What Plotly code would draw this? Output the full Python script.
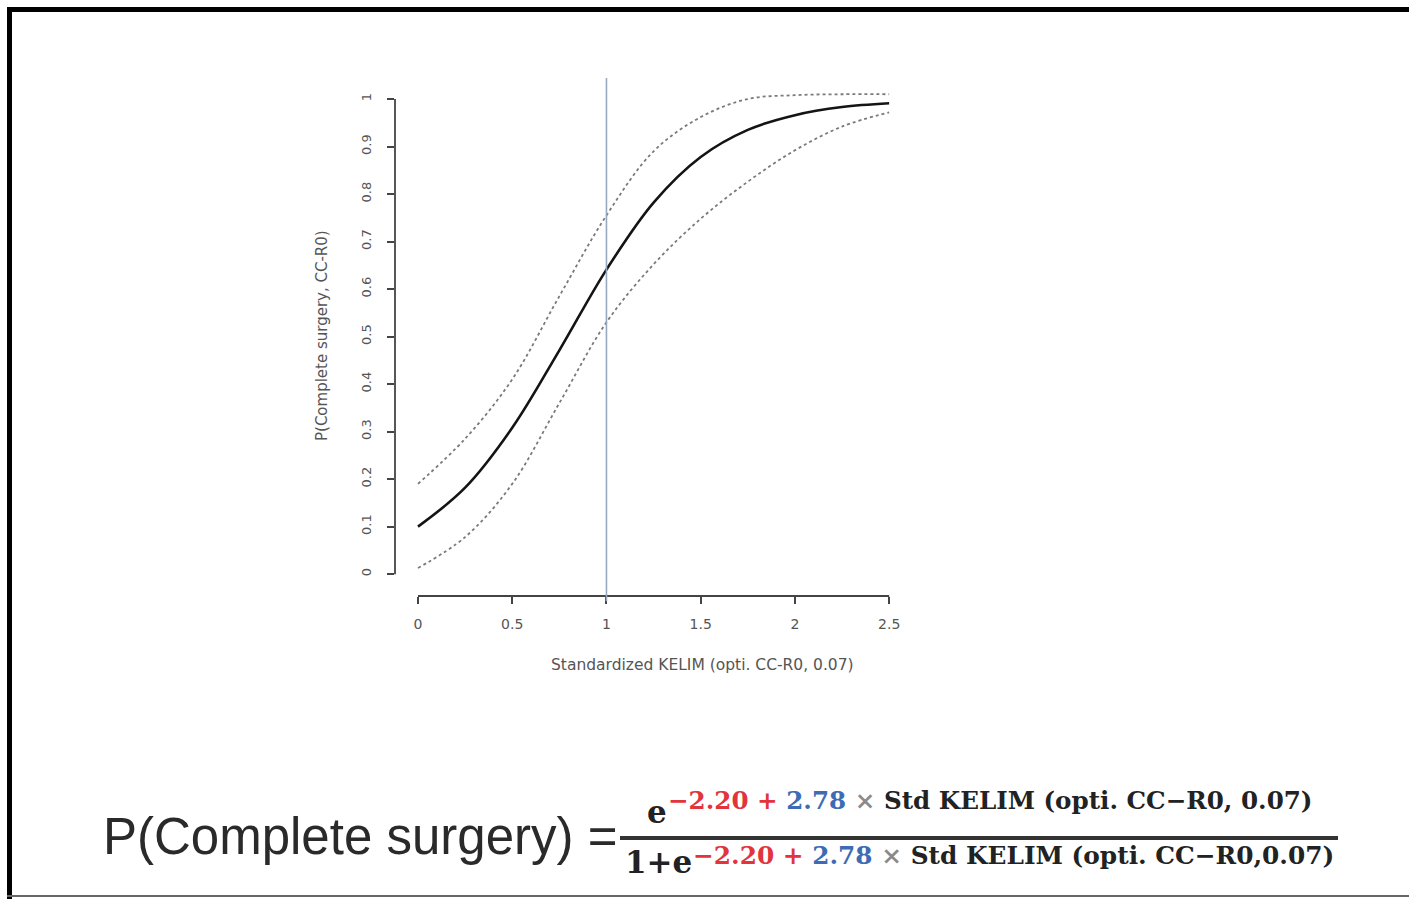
import plotly.graph_objects as go

W, H = 1409, 899

# Standardized KELIM values and predicted probability of complete surgery (CC-R0)
kelim = [0, 0.25, 0.5, 0.75, 1.0, 1.25, 1.5, 1.75, 2.0, 2.25, 2.5]
p_fit = [0.100, 0.182, 0.308, 0.471, 0.641, 0.782, 0.878, 0.935, 0.966, 0.983, 0.991]
p_upper = [0.190, 0.285, 0.410, 0.585, 0.755, 0.890, 0.962, 1.000, 1.008, 1.010, 1.010]
p_lower = [0.013, 0.078, 0.190, 0.360, 0.530, 0.652, 0.748, 0.826, 0.892, 0.942, 0.972]
cutoff = 1.0

x_ticks = [0, 0.5, 1, 1.5, 2, 2.5]
x_ticktext = ["0", "0.5", "1", "1.5", "2", "2.5"]
y_ticks = [0, 0.1, 0.2, 0.3, 0.4, 0.5, 0.6, 0.7, 0.8, 0.9, 1]
y_ticktext = ["0", "0.1", "0.2", "0.3", "0.4", "0.5", "0.6", "0.7", "0.8", "0.9", "1"]


def px(x):
    return x / W


def py(y):
    return 1 - y / H


fig = go.Figure()

for band in (p_upper, p_lower):
    fig.add_trace(go.Scatter(
        x=kelim, y=band, mode="lines", line_shape="spline",
        line=dict(color="#7a7a7a", width=1.8, dash="dot"),
        hoverinfo="skip", showlegend=False,
    ))

fig.add_trace(go.Scatter(
    x=kelim, y=p_fit, mode="lines", line_shape="spline",
    line=dict(color="#141414", width=2.6),
    showlegend=False,
))

label_font = dict(family="DejaVu Sans, sans-serif", size=15, color="#555")

fig.update_layout(
    width=W, height=H,
    margin=dict(l=0, r=0, t=0, b=0),
    paper_bgcolor="white", plot_bgcolor="white",
    xaxis=dict(
        domain=[px(395), px(908)], range=[-0.122, 2.6],
        showgrid=False, zeroline=False, showline=False,
        ticks="outside", ticklen=7, tickwidth=1.5, tickcolor="#444",
        tickvals=x_ticks, ticktext=x_ticktext, tickfont=dict(label_font, size=14),
        ticklabelstandoff=8,
    ),
    yaxis=dict(
        domain=[py(596), py(80)], range=[-0.046, 1.04],
        showgrid=False, zeroline=False, showline=False,
        ticks="outside", ticklen=7, tickwidth=1.5, tickcolor="#444",
        tickvals=y_ticks, ticktext=y_ticktext, tickfont=dict(label_font, size=13),
        tickangle=-90, ticklabelstandoff=11,
    ),
)

shapes = [
    # axis lines spanning the tick range only
    dict(type="line", xref="x", yref="paper", x0=0, x1=2.5, y0=py(596), y1=py(596),
         line=dict(color="#444", width=1.8)),
    dict(type="line", xref="paper", yref="y", x0=px(395), x1=px(395), y0=0, y1=1,
         line=dict(color="#444", width=1.8)),
    # cutoff at standardized KELIM = 1
    dict(type="line", xref="x", yref="y domain", x0=cutoff, x1=cutoff, y0=-0.01, y1=1.004,
         line=dict(color="#9aa8bf", width=1.6)),
    # fraction bar of the model equation
    dict(type="line", xref="paper", yref="paper", x0=px(620), x1=px(1338), y0=py(838), y1=py(838),
         line=dict(color="#333", width=4)),
    # frame
    dict(type="rect", xref="paper", yref="paper", x0=px(7), x1=px(1409), y0=py(7), y1=py(12),
         fillcolor="black", line=dict(width=0)),
    dict(type="rect", xref="paper", yref="paper", x0=px(7), x1=px(12), y0=py(7), y1=py(899),
         fillcolor="black", line=dict(width=0)),
    dict(type="line", xref="paper", yref="paper", x0=px(7), x1=px(1409), y0=py(896), y1=py(896),
         line=dict(color="#666", width=2)),
]
fig.update_layout(shapes=shapes)

serif = "DejaVu Serif, serif"
exponent_num = ('<b><span style="color:#e2343c">\u22122.20 + </span>'
                '<span style="color:#3d6cb5">2.78</span>'
                '<span style="color:#8a8a8a"> \u00d7 </span>'
                'Std KELIM (opti. CC\u2212R0, 0.07)</b>')
exponent_den = ('<b><span style="color:#e2343c">\u22122.20 + </span>'
                '<span style="color:#3d6cb5">2.78</span>'
                '<span style="color:#8a8a8a"> \u00d7 </span>'
                'Std KELIM (opti. CC\u2212R0,0.07)</b>')

annotations = [
    dict(text="P(Complete surgery, CC-R0)", x=px(322), y=py(336), textangle=-90,
         font=dict(label_font, size=15)),
    dict(text="Standardized KELIM (opti. CC-R0, 0.07)", x=px(702), y=py(665),
         font=dict(label_font, size=15.5)),
    dict(text="P(Complete surgery) =", x=px(101), y=py(836), xanchor="left",
         font=dict(family="Liberation Sans, Arial, sans-serif", size=51, color="#2a2a2a")),
    dict(text="<b>e</b>", x=px(645), y=py(812), xanchor="left",
         font=dict(family=serif, size=31, color="#222")),
    dict(text=exponent_num, x=px(666), y=py(800), xanchor="left",
         font=dict(family=serif, size=24.6, color="#222")),
    dict(text="<b>1+e</b>", x=px(623), y=py(862), xanchor="left",
         font=dict(family=serif, size=31, color="#222")),
    dict(text=exponent_den, x=px(691), y=py(855), xanchor="left",
         font=dict(family=serif, size=24.8, color="#222")),
]
for a in annotations:
    a.setdefault("xref", "paper")
    a.setdefault("yref", "paper")
    a.setdefault("showarrow", False)
    a.setdefault("xanchor", "center")
    a.setdefault("yanchor", "middle")
fig.update_layout(annotations=annotations)

fig.write_html("out.html")
